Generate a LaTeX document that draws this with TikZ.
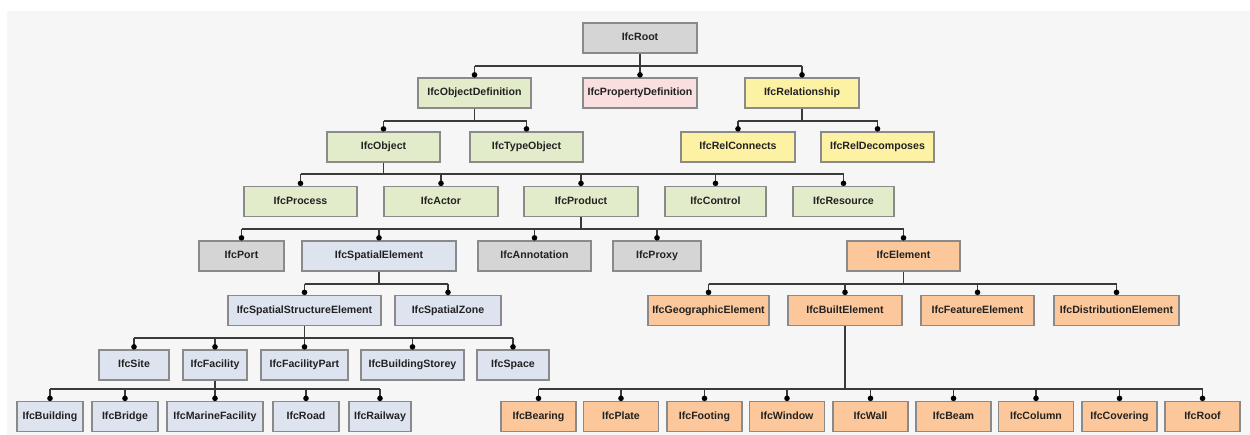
\documentclass[tikz,border=0pt]{standalone}
\usepackage{fontspec}
\setmainfont{Liberation Sans}
\definecolor{panel}{HTML}{F6F6F6}
\definecolor{edge}{HTML}{8A8A8A}
\definecolor{wire}{HTML}{3A3A3A}
\definecolor{ink}{HTML}{222222}
\definecolor{cgray}{HTML}{D5D5D5}
\definecolor{cgreen}{HTML}{E3ECCA}
\definecolor{cpink}{HTML}{F9DFDF}
\definecolor{cyellow}{HTML}{FDF1A3}
\definecolor{cblue}{HTML}{DEE4EF}
\definecolor{corange}{HTML}{FCC89B}
\tikzset{
  box/.style={draw=edge, line width=1.3pt, minimum height=30pt, inner sep=0pt,
    text height=7.6pt, text depth=2.2pt,
    font=\bfseries\fontsize{10.6}{12}\selectfont, text=ink},
  gbox/.style={box, fill=cgray},
  grbox/.style={box, fill=cgreen},
  pbox/.style={box, fill=cpink},
  ybox/.style={box, fill=cyellow},
  bbox/.style={box, fill=cblue},
  obox/.style={box, fill=corange},
  wirestyle/.style={draw=wire, line width=1.2pt},
}
% link a parent to its children through a horizontal bus at coordinate #2
\newcommand{\treelink}[4]{%
  \draw[wirestyle] (#1.south) -- (#1.south |- #2);
  \draw[wirestyle] (#3.north |- #2) -- (#4.north |- #2);
}
\newcommand{\kids}[2]{%
  \foreach \c in {#2} {
    \draw[wirestyle] (\c.north |- #1) -- (\c.north);
    \fill[black] ([yshift=2.5pt]\c.north) circle (2.8pt);
  }
}
\begin{document}
\begin{tikzpicture}[x=1pt,y=1pt]
\useasboundingbox (0,0) rectangle (1250,-435);
\fill[white] (0,0) rectangle (1250,-435);
\fill[panel] (7,-11) rectangle (1250,-435);

% level 0
\node[gbox, minimum width=114pt] (root) at (640,-38) {IfcRoot};
% level 1
\node[grbox, minimum width=113pt] (od) at (474.5,-93) {IfcObjectDefinition};
\node[pbox, minimum width=114pt] (pd) at (640,-93) {IfcPropertyDefinition};
\node[ybox, minimum width=114pt] (rel) at (802,-93) {IfcRelationship};
% level 2
\node[grbox, minimum width=113pt] (obj) at (383.5,-147) {IfcObject};
\node[grbox, minimum width=113pt] (tobj) at (526.5,-147) {IfcTypeObject};
\node[ybox, minimum width=114pt] (rc) at (738,-147) {IfcRelConnects};
\node[ybox, minimum width=113pt] (rd) at (877.5,-147) {IfcRelDecomposes};
% level 3
\node[grbox, minimum width=113pt] (proc) at (300.5,-201.5) {IfcProcess};
\node[grbox, minimum width=114pt] (actor) at (441,-201.5) {IfcActor};
\node[grbox, minimum width=114pt] (prod) at (581,-201.5) {IfcProduct};
\node[grbox, minimum width=101pt] (ctrl) at (715.5,-201.5) {IfcControl};
\node[grbox, minimum width=101pt] (res) at (843.5,-201.5) {IfcResource};
% level 4
\node[gbox, minimum width=85pt] (port) at (241.5,-256) {IfcPort};
\node[bbox, minimum width=154pt] (spel) at (379,-256) {IfcSpatialElement};
\node[gbox, minimum width=113pt] (anno) at (534.5,-256) {IfcAnnotation};
\node[gbox, minimum width=88pt] (proxy) at (657,-256) {IfcProxy};
\node[obox, minimum width=113pt] (elem) at (903.5,-256) {IfcElement};
% level 5
\node[bbox, minimum width=153pt] (sse) at (304.5,-310.5) {IfcSpatialStructureElement};
\node[bbox, minimum width=106pt] (sz) at (448,-310.5) {IfcSpatialZone};
\node[obox, minimum width=121pt] (geo) at (708.5,-310.5) {IfcGeographicElement};
\node[obox, minimum width=114pt] (built) at (845,-310.5) {IfcBuiltElement};
\node[obox, minimum width=113pt] (feat) at (977.5,-310.5) {IfcFeatureElement};
\node[obox, minimum width=125pt] (dist) at (1116.5,-310.5) {IfcDistributionElement};
% level 6
\node[bbox, minimum width=70pt] (site) at (134,-365) {IfcSite};
\node[bbox, minimum width=64pt] (fac) at (215,-365) {IfcFacility};
\node[bbox, minimum width=87pt] (facp) at (304.5,-365) {IfcFacilityPart};
\node[bbox, minimum width=103pt] (bs) at (412.5,-365) {IfcBuildingStorey};
\node[bbox, minimum width=72pt] (space) at (513,-365) {IfcSpace};
% level 7
\node[bbox, minimum width=66pt] (bldg) at (50,-416.5) {IfcBuilding};
\node[bbox, minimum width=66pt] (bridge) at (125,-416.5) {IfcBridge};
\node[bbox, minimum width=96pt] (marine) at (215,-416.5) {IfcMarineFacility};
\node[bbox, minimum width=66pt] (road) at (306,-416.5) {IfcRoad};
\node[bbox, minimum width=62pt] (rail) at (380,-416.5) {IfcRailway};
\node[obox, minimum width=75pt] (bearing) at (538.5,-416.5) {IfcBearing};
\node[obox, minimum width=75pt] (plate) at (621,-416.5) {IfcPlate};
\node[obox, minimum width=75pt] (footing) at (704.5,-416.5) {IfcFooting};
\node[obox, minimum width=75pt] (window) at (787,-416.5) {IfcWindow};
\node[obox, minimum width=75pt] (wall) at (870.5,-416.5) {IfcWall};
\node[obox, minimum width=75pt] (beam) at (953.5,-416.5) {IfcBeam};
\node[obox, minimum width=75pt] (column) at (1036,-416.5) {IfcColumn};
\node[obox, minimum width=75pt] (covering) at (1119.5,-416.5) {IfcCovering};
\node[obox, minimum width=75pt] (roof) at (1202.5,-416.5) {IfcRoof};

% bus lines
\coordinate (b0) at (0,-66);
\coordinate (b1) at (0,-121);
\coordinate (b2) at (0,-174);
\coordinate (b3) at (0,-229);
\coordinate (b4) at (0,-284);
\coordinate (b5) at (0,-338);
\coordinate (b6) at (0,-389);

\treelink{root}{b0}{od}{rel}
\kids{b0}{od,pd,rel}
\treelink{od}{b1}{obj}{tobj}
\kids{b1}{obj,tobj}
\treelink{rel}{b1}{rc}{rd}
\kids{b1}{rc,rd}
\treelink{obj}{b2}{proc}{res}
\kids{b2}{proc,actor,prod,ctrl,res}
\treelink{prod}{b3}{port}{elem}
\kids{b3}{port,spel,anno,proxy,elem}
\treelink{spel}{b4}{sse}{sz}
\kids{b4}{sse,sz}
\treelink{elem}{b4}{geo}{dist}
\kids{b4}{geo,built,feat,dist}
\treelink{sse}{b5}{site}{space}
\kids{b5}{site,fac,facp,bs,space}
\treelink{fac}{b6}{bldg}{rail}
\kids{b6}{bldg,bridge,marine,road,rail}
\treelink{built}{b6}{bearing}{roof}
\kids{b6}{bearing,plate,footing,window,wall,beam,column,covering,roof}
\end{tikzpicture}
\end{document}
